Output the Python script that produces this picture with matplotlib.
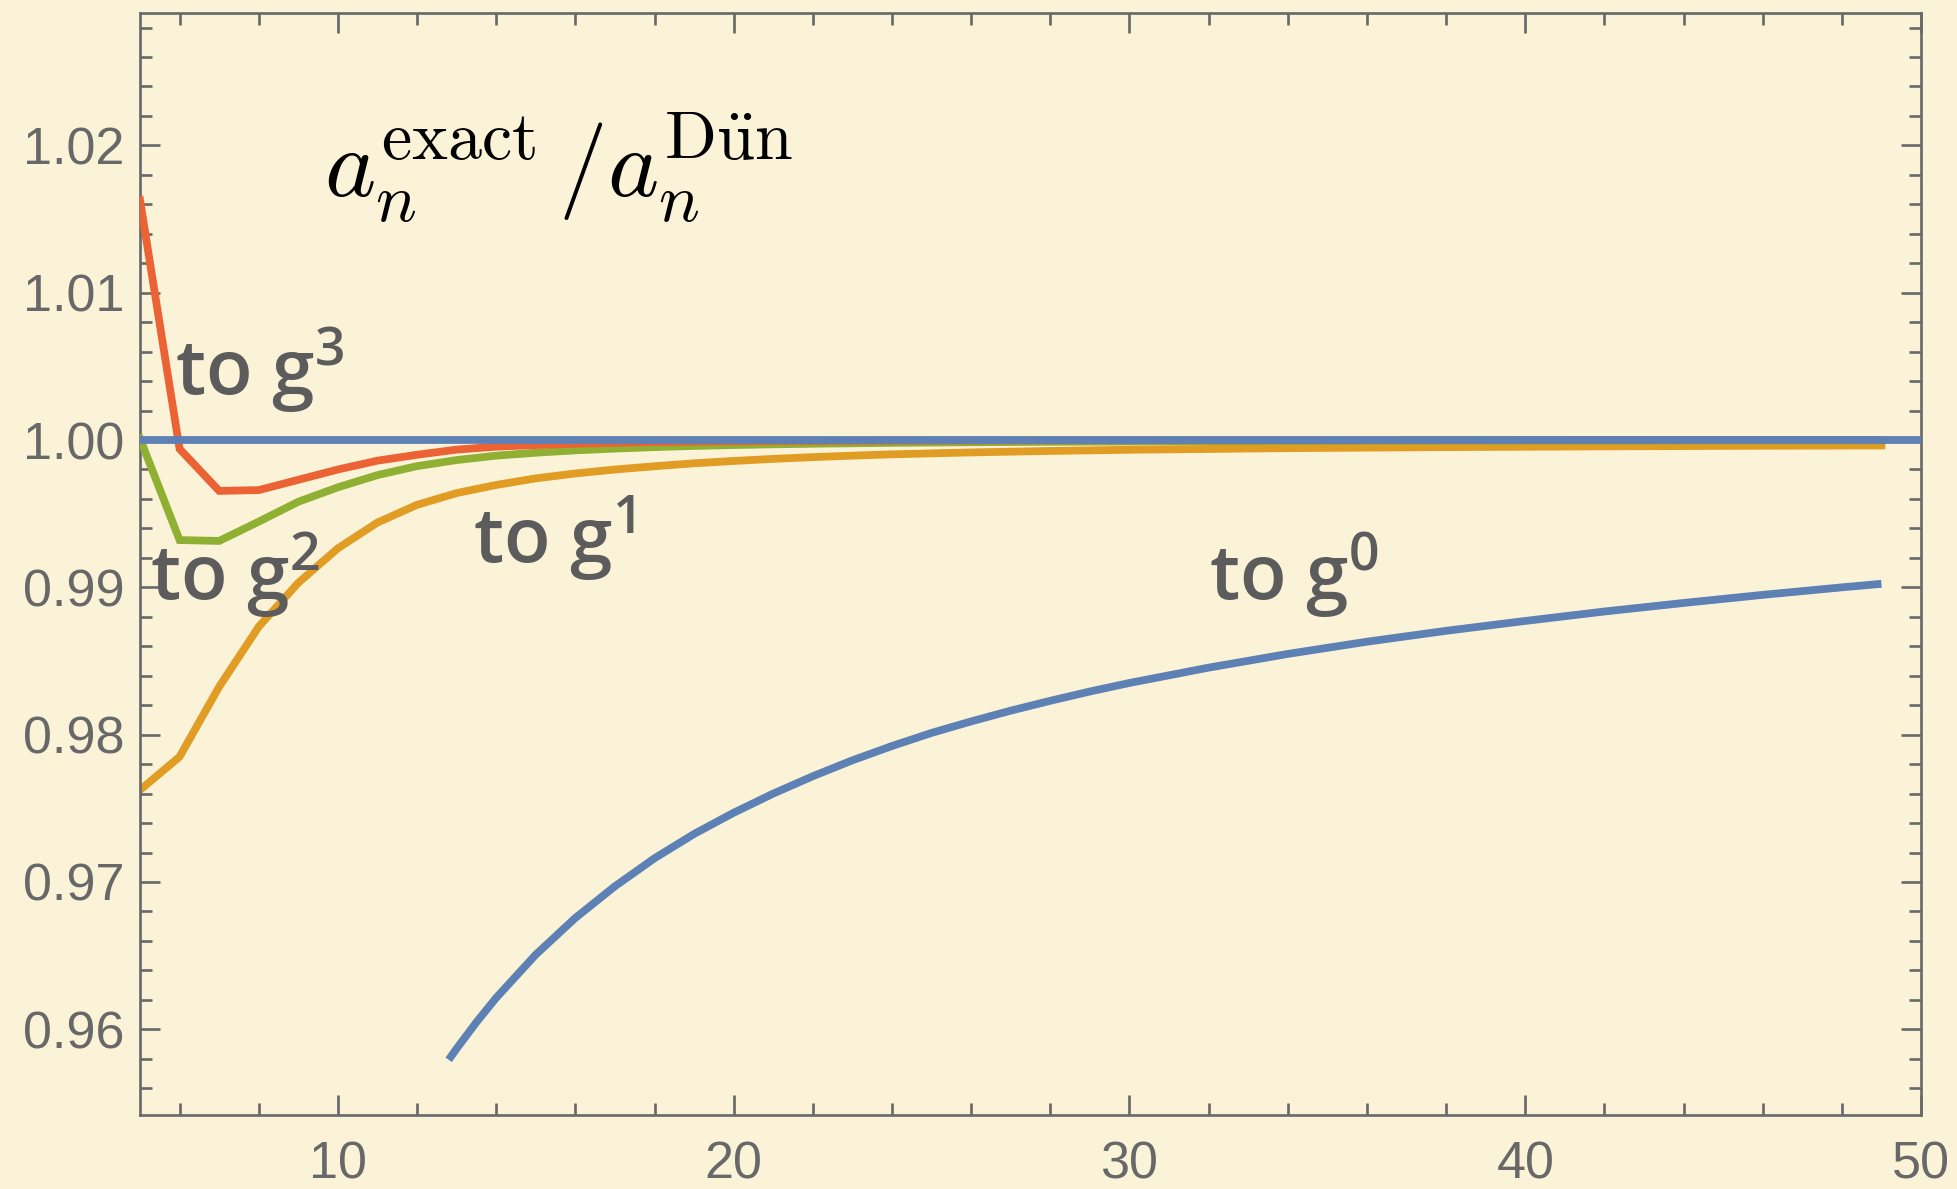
import matplotlib
matplotlib.use("Agg")
import matplotlib.pyplot as plt
from matplotlib.ticker import MultipleLocator, FormatStrFormatter, FixedLocator

# ---------------- data ----------------
orders_n = [5, 6, 7, 8, 9, 10, 11, 12, 13, 14, 15, 16, 17, 18, 19, 20, 21, 22, 23, 24,
            26, 28, 30, 34, 38, 42, 46, 49]
to_g3 = [1.0163, 0.9994, 0.99655, 0.9966, 0.9973, 0.9980, 0.9986, 0.9990, 0.99935, 0.99955,
         0.99966, 0.99975, 0.99981, 0.99986, 0.99989, 0.99991, 0.99993, 0.99994, 0.99995, 0.99996,
         0.99997, 0.99998, 0.99998, 0.99999, 0.99999, 1.0, 1.0, 1.0]
to_g2 = [1.0001, 0.99321, 0.99315, 0.99446, 0.99581, 0.99679, 0.99762, 0.99823, 0.99864, 0.99894,
         0.99914, 0.99930, 0.99942, 0.99952, 0.99960, 0.99966, 0.99971, 0.99975, 0.99978, 0.99981,
         0.99985, 0.99988, 0.99990, 0.99993, 0.99995, 0.99996, 0.99997, 0.99997]
to_g1 = [0.97624, 0.97850, 0.98325, 0.98733, 0.99031, 0.99265, 0.99440, 0.99560, 0.99640, 0.99695,
         0.99740, 0.99773, 0.99800, 0.99822, 0.99842, 0.99858, 0.99872, 0.99884, 0.99894, 0.99903,
         0.99916, 0.99926, 0.99934, 0.99945, 0.99952, 0.99957, 0.99961, 0.99963]
g0_n = [12.8, 13, 13.5, 14, 15, 16, 17, 18, 19, 20, 21, 22, 23, 24, 25, 26, 27, 28, 29, 30,
        32, 34, 36, 38, 40, 42, 44, 46, 48, 49]
to_g0 = [0.95793, 0.95869, 0.96048, 0.96214, 0.96507, 0.96756, 0.96971, 0.97161, 0.97326, 0.97470,
         0.97600, 0.97718, 0.97826, 0.97923, 0.98012, 0.98090, 0.98163, 0.98230, 0.98293, 0.98351,
         0.98455, 0.98548, 0.98631, 0.98705, 0.98772, 0.98836, 0.98894, 0.98949, 0.99000, 0.99024]
exact_level = 1.0

x_major = [10, 20, 30, 40, 50]
y_major = [0.96, 0.97, 0.98, 0.99, 1.00, 1.01, 1.02]

labels = ["to g$^{\\mathregular{3}}$", "to g$^{\\mathregular{2}}$",
          "to g$^{\\mathregular{1}}$", "to g$^{\\mathregular{0}}$"]
label_pos = [(5.88, 1.00305), (5.25, 0.98914), (13.42, 0.99163), (32.0, 0.98914)]
title_text = r"$a_n^{\mathrm{exact}}\,/a_n^{\mathrm{D\ddot{u}n}}$"

# ---------------- style ----------------
bg = "#FBF3D8"
axis_gray = "#686868"
text_gray = "#5C5C5C"
c_blue, c_orange, c_green, c_red = "#5E81B5", "#E19C24", "#8FB032", "#EB6235"
lw = 5.6

fig = plt.figure(figsize=(19.58, 11.89), dpi=100, facecolor=bg)
ax = fig.add_axes([0.0715, 0.0622, 0.9096, 0.9269], facecolor=bg)

ax.plot(orders_n, to_g1, color=c_orange, lw=lw, solid_joinstyle="miter", zorder=2)
ax.plot(orders_n, to_g2, color=c_green, lw=lw, solid_joinstyle="miter", zorder=3)
ax.plot(orders_n, to_g3, color=c_red, lw=lw, solid_joinstyle="miter", zorder=4)
ax.plot(g0_n, to_g0, color=c_blue, lw=lw, solid_capstyle="butt", zorder=5)
ax.axhline(exact_level, color=c_blue, lw=lw, zorder=6)

ax.set_xlim(5, 50)
ax.set_ylim(0.95418, 1.02899)

ax.xaxis.set_major_locator(FixedLocator(x_major))
ax.xaxis.set_minor_locator(MultipleLocator(2))
ax.yaxis.set_major_locator(FixedLocator(y_major))
ax.yaxis.set_minor_locator(MultipleLocator(0.002))
ax.yaxis.set_major_formatter(FormatStrFormatter("%.2f"))

for sp in ax.spines.values():
    sp.set_color(axis_gray)
    sp.set_linewidth(1.9)

ax.tick_params(which="both", direction="in", top=True, right=True,
               color=axis_gray, width=1.9, labelcolor=axis_gray)
ax.tick_params(which="major", length=14.5)
ax.tick_params(which="minor", length=8.6)
ax.tick_params(axis="y", which="major", pad=11)
ax.tick_params(axis="x", which="major", pad=18.5)
for lab in ax.get_xticklabels() + ax.get_yticklabels():
    lab.set_fontfamily("Liberation Sans")
    lab.set_fontsize(37.5)

for txt, (x, y) in zip(labels, label_pos):
    ax.text(x, y, txt, fontsize=55, family="Open Sans", weight="semibold",
            color=text_gray, ha="left", va="baseline", zorder=7)

ax.text(9.66, 1.01652, title_text, fontsize=70, math_fontfamily="cm",
        color="black", ha="left", va="baseline", zorder=7)

fig.savefig("out.png", dpi=100, facecolor=bg)
